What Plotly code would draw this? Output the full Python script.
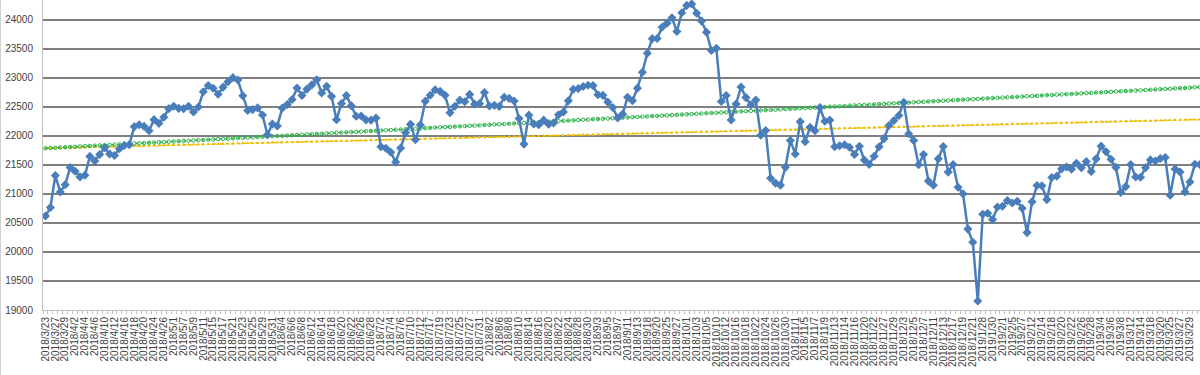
import plotly.graph_objects as go

dates = [
    "2018/3/23", "2018/3/26", "2018/3/27", "2018/3/28", "2018/3/29", "2018/3/30",
    "2018/4/2", "2018/4/3", "2018/4/4", "2018/4/5", "2018/4/6", "2018/4/9", "2018/4/10", "2018/4/11", "2018/4/12", "2018/4/13",
    "2018/4/16", "2018/4/17", "2018/4/18", "2018/4/19", "2018/4/20", "2018/4/23", "2018/4/24", "2018/4/25", "2018/4/26", "2018/4/27",
    "2018/5/1", "2018/5/2", "2018/5/7", "2018/5/8", "2018/5/9", "2018/5/10", "2018/5/11", "2018/5/14", "2018/5/15", "2018/5/16",
    "2018/5/17", "2018/5/18", "2018/5/21", "2018/5/22", "2018/5/23", "2018/5/24", "2018/5/25", "2018/5/28", "2018/5/29", "2018/5/30", "2018/5/31",
    "2018/6/1", "2018/6/4", "2018/6/5", "2018/6/6", "2018/6/7", "2018/6/8", "2018/6/11", "2018/6/12", "2018/6/13", "2018/6/14",
    "2018/6/15", "2018/6/18", "2018/6/19", "2018/6/20", "2018/6/21", "2018/6/22", "2018/6/25", "2018/6/26", "2018/6/27", "2018/6/28", "2018/6/29",
    "2018/7/2", "2018/7/3", "2018/7/4", "2018/7/5", "2018/7/6", "2018/7/9", "2018/7/10", "2018/7/11", "2018/7/12", "2018/7/13",
    "2018/7/17", "2018/7/18", "2018/7/19", "2018/7/20", "2018/7/23", "2018/7/24", "2018/7/25", "2018/7/26", "2018/7/27", "2018/7/30", "2018/7/31",
    "2018/8/1", "2018/8/2", "2018/8/3", "2018/8/6", "2018/8/7", "2018/8/8", "2018/8/9", "2018/8/10", "2018/8/13", "2018/8/14",
    "2018/8/15", "2018/8/16", "2018/8/17", "2018/8/20", "2018/8/21", "2018/8/22", "2018/8/23", "2018/8/24", "2018/8/27", "2018/8/28",
    "2018/8/29", "2018/8/30", "2018/8/31",
    "2018/9/3", "2018/9/4", "2018/9/5", "2018/9/6", "2018/9/7", "2018/9/10", "2018/9/11", "2018/9/12", "2018/9/13", "2018/9/14",
    "2018/9/18", "2018/9/19", "2018/9/20", "2018/9/21", "2018/9/25", "2018/9/26", "2018/9/27", "2018/9/28",
    "2018/10/1", "2018/10/2", "2018/10/3", "2018/10/4", "2018/10/5", "2018/10/9", "2018/10/10", "2018/10/11", "2018/10/12", "2018/10/15",
    "2018/10/16", "2018/10/17", "2018/10/18", "2018/10/19", "2018/10/22", "2018/10/23", "2018/10/24", "2018/10/25", "2018/10/26", "2018/10/29",
    "2018/10/30", "2018/10/31",
    "2018/11/1", "2018/11/2", "2018/11/5", "2018/11/6", "2018/11/7", "2018/11/8", "2018/11/9", "2018/11/12", "2018/11/13", "2018/11/13",
    "2018/11/14", "2018/11/15", "2018/11/16", "2018/11/19", "2018/11/20", "2018/11/21", "2018/11/22", "2018/11/26", "2018/11/27", "2018/11/28",
    "2018/11/29", "2018/11/30",
    "2018/12/3", "2018/12/4", "2018/12/5", "2018/12/6", "2018/12/7", "2018/12/10", "2018/12/11", "2018/12/12", "2018/12/13", "2018/12/14",
    "2018/12/17", "2018/12/18", "2018/12/19", "2018/12/20", "2018/12/21", "2018/12/25",
    "2019/1/28", "2019/1/29", "2019/1/30", "2019/1/31",
    "2019/2/1", "2019/2/4", "2019/2/5", "2019/2/6", "2019/2/7", "2019/2/8", "2019/2/12", "2019/2/13", "2019/2/14", "2019/2/15",
    "2019/2/18", "2019/2/19", "2019/2/20", "2019/2/21", "2019/2/22", "2019/2/25", "2019/2/26", "2019/2/27", "2019/2/28",
    "2019/3/1", "2019/3/4", "2019/3/5", "2019/3/6", "2019/3/7", "2019/3/8", "2019/3/11", "2019/3/12", "2019/3/13", "2019/3/14",
    "2019/3/15", "2019/3/18", "2019/3/19", "2019/3/20", "2019/3/22", "2019/3/25", "2019/3/26", "2019/3/27", "2019/3/28", "2019/3/29",
    "2019/4/1", "2019/4/2",
]

close = [
    20618, 20766, 21317, 21031, 21159, 21454,
    21389, 21292, 21320, 21645, 21568, 21678, 21794, 21687, 21660, 21779,
    21836, 21848, 22158, 22191, 22162, 22088, 22278, 22215, 22320, 22468,
    22508, 22473, 22467, 22509, 22409, 22497, 22758, 22866, 22818, 22717,
    22838, 22930, 23002, 22960, 22690, 22437, 22451, 22481, 22358, 22019, 22202,
    22171, 22476, 22540, 22626, 22823, 22695, 22804, 22878, 22966, 22739,
    22852, 22680, 22278, 22555, 22693, 22517, 22338, 22342, 22272, 22270, 22305,
    21812, 21786, 21717, 21547, 21788, 22052, 22197, 21932, 22188, 22597,
    22698, 22794, 22765, 22697, 22397, 22510, 22614, 22587, 22713, 22545, 22554,
    22747, 22513, 22525, 22507, 22663, 22644, 22598, 22298, 21857, 22356,
    22204, 22192, 22270, 22199, 22220, 22363, 22411, 22602, 22800, 22813,
    22848, 22870, 22865,
    22707, 22697, 22581, 22488, 22307, 22373, 22665, 22605, 22821, 23095,
    23421, 23673, 23675, 23870, 23940, 24034, 23797, 24120,
    24246, 24271, 24111, 23976, 23784, 23469, 23506, 22591, 22695, 22271,
    22549, 22841, 22658, 22532, 22615, 22011, 22091, 21269, 21185, 21150,
    21457, 21920,
    21688, 22244, 21899, 22148, 22086, 22487, 22250, 22270, 21811, 21830,
    21846, 21804, 21680, 21821, 21583, 21508, 21647, 21812, 21952, 22177,
    22263, 22351,
    22575, 22036, 21919, 21502, 21679, 21220, 21148, 21603, 21816, 21375,
    21507, 21115, 21000, 20393, 20166, 19156,
    20649, 20665, 20557, 20773,
    20788, 20884, 20844, 20874, 20751, 20333, 20864, 21144, 21140, 20901,
    21282, 21303, 21431, 21464, 21425, 21528, 21449, 21557, 21385,
    21603, 21822, 21726, 21597, 21456, 21026, 21125, 21504, 21290, 21287,
    21451, 21585, 21567, 21609, 21627, 20977, 21428, 21378, 21034, 21206,
    21509, 21505,
]

trend_green = [
    21785, 21790, 21794, 21799, 21803, 21808, 21812, 21817, 21821, 21826, 21830, 21835, 21839, 21844, 21848, 21853,
    21857, 21862, 21866, 21871, 21875, 21880, 21884, 21889, 21893, 21898, 21902, 21907, 21911, 21916, 21920, 21925,
    21929, 21934, 21938, 21943, 21947, 21952, 21956, 21961, 21965, 21970, 21974, 21979, 21983, 21988, 21992, 21997,
    22001, 22006, 22010, 22015, 22019, 22024, 22028, 22033, 22037, 22042, 22046, 22051, 22055, 22060, 22064, 22069,
    22073, 22078, 22082, 22087, 22091, 22096, 22100, 22105, 22109, 22114, 22118, 22123, 22127, 22132, 22136, 22141,
    22145, 22150, 22154, 22159, 22163, 22168, 22172, 22177, 22181, 22186, 22190, 22195, 22199, 22204, 22208, 22213,
    22217, 22222, 22226, 22231, 22235, 22240, 22244, 22249, 22253, 22258, 22262, 22267, 22271, 22276, 22280, 22285,
    22289, 22294, 22298, 22303, 22307, 22312, 22316, 22321, 22325, 22330, 22334, 22339, 22343, 22348, 22352, 22357,
    22361, 22366, 22370, 22375, 22379, 22384, 22388, 22393, 22397, 22402, 22406, 22411, 22415, 22420, 22424, 22429,
    22433, 22438, 22442, 22447, 22451, 22456, 22460, 22465, 22469, 22474, 22478, 22483, 22487, 22492, 22496, 22501,
    22505, 22510, 22514, 22519, 22523, 22528, 22532, 22537, 22541, 22546, 22550, 22555, 22559, 22564, 22568, 22573,
    22577, 22582, 22586, 22591, 22595, 22600, 22604, 22609, 22613, 22618, 22622, 22627, 22631, 22636, 22640, 22645,
    22649, 22654, 22658, 22663, 22667, 22672, 22676, 22681, 22685, 22690, 22694, 22699, 22703, 22708, 22712, 22717,
    22721, 22726, 22730, 22735, 22739, 22744, 22748, 22753, 22757, 22762, 22766, 22771, 22775, 22780, 22784, 22789,
    22793, 22798, 22802, 22807, 22811, 22816, 22820, 22825, 22829, 22834, 22838,
]

trend_yellow = [
    21785, 21787, 21789, 21791, 21794, 21796, 21798, 21800, 21802, 21804, 21806, 21808, 21811, 21813, 21815, 21817,
    21819, 21821, 21823, 21825, 21828, 21830, 21832, 21834, 21836, 21838, 21840, 21842, 21845, 21847, 21849, 21851,
    21853, 21855, 21857, 21859, 21862, 21864, 21866, 21868, 21870, 21872, 21874, 21876, 21879, 21881, 21883, 21885,
    21887, 21889, 21891, 21893, 21896, 21898, 21900, 21902, 21904, 21906, 21908, 21910, 21913, 21915, 21917, 21919,
    21921, 21923, 21925, 21927, 21930, 21932, 21934, 21936, 21938, 21940, 21942, 21944, 21947, 21949, 21951, 21953,
    21955, 21957, 21959, 21961, 21964, 21966, 21968, 21970, 21972, 21974, 21976, 21978, 21981, 21983, 21985, 21987,
    21989, 21991, 21993, 21995, 21998, 22000, 22002, 22004, 22006, 22008, 22010, 22012, 22015, 22017, 22019, 22021,
    22023, 22025, 22027, 22029, 22032, 22034, 22036, 22038, 22040, 22042, 22044, 22046, 22049, 22051, 22053, 22055,
    22057, 22059, 22061, 22063, 22066, 22068, 22070, 22072, 22074, 22076, 22078, 22080, 22083, 22085, 22087, 22089,
    22091, 22093, 22095, 22097, 22100, 22102, 22104, 22106, 22108, 22110, 22112, 22114, 22117, 22119, 22121, 22123,
    22125, 22127, 22129, 22131, 22134, 22136, 22138, 22140, 22142, 22144, 22146, 22148, 22151, 22153, 22155, 22157,
    22159, 22161, 22163, 22165, 22168, 22170, 22172, 22174, 22176, 22178, 22180, 22182, 22185, 22187, 22189, 22191,
    22193, 22195, 22197, 22199, 22202, 22204, 22206, 22208, 22210, 22212, 22214, 22216, 22219, 22221, 22223, 22225,
    22227, 22229, 22231, 22233, 22236, 22238, 22240, 22242, 22244, 22246, 22248, 22250, 22253, 22255, 22257, 22259,
    22261, 22263, 22265, 22267, 22270, 22272, 22274, 22276, 22278, 22280, 22282,
]

y_ticks = [19000, 19500, 20000, 20500, 21000, 21500, 22000, 22500, 23000, 23500, 24000]

idx = list(range(len(dates)))
label_idx = idx[::2]
label_text = dates[::2]
boundaries = [i - 0.5 for i in range(len(dates) + 1)]

FONT = "Liberation Sans, Arial, sans-serif"
TXT = "#404040"

fig = go.Figure()
fig.add_trace(go.Scatter(
    x=idx, y=trend_yellow, mode="lines+markers",
    line=dict(color="#F2BE00", width=1.5, dash="dot"),
    marker=dict(symbol="triangle-up", size=3.5, color="#F2BE00"),
    showlegend=False, hoverinfo="skip",
))
fig.add_trace(go.Scatter(
    x=idx, y=trend_green, mode="lines+markers",
    line=dict(color="#2DB34A", width=1.5, dash="dot"),
    marker=dict(symbol="circle-open", size=3.5, color="#2DB34A", line=dict(width=1)),
    showlegend=False, hoverinfo="skip",
))
fig.add_trace(go.Scatter(
    x=idx, y=close, mode="lines+markers",
    line=dict(color="#4A7EBB", width=2.5),
    marker=dict(symbol="diamond", size=7, color="#4A7EBB"),
    showlegend=False,
))

fig.update_layout(
    width=1200, height=375,
    margin=dict(l=43, r=0, t=0, b=65, pad=0),
    paper_bgcolor="white", plot_bgcolor="white",
    font=dict(family=FONT, size=10, color=TXT),
    xaxis=dict(
        range=[-0.5, 234.05],
        tickmode="array", tickvals=label_idx, ticktext=label_text,
        tickangle=-90, ticks="", showgrid=False, zeroline=False,
        showline=True, linecolor="#BFBFBF", linewidth=1,
        tickfont=dict(family=FONT, size=10, color=TXT),
        ticklabelstandoff=2,
        minor=dict(tickmode="array", tickvals=boundaries, ticks="outside",
                   ticklen=3, tickcolor="#BFBFBF", tickwidth=1, showgrid=False),
    ),
    yaxis=dict(
        range=[19000, 24339],
        tickmode="array", tickvals=y_ticks, tickformat="d",
        showgrid=True, gridcolor="#7F7F7F", gridwidth=1.5,
        zeroline=False, showline=True, linecolor="#BFBFBF", linewidth=1,
        ticks="", ticklabelstandoff=7,
        tickfont=dict(family=FONT, size=10, color=TXT),
    ),
    shapes=[dict(type="line", xref="paper", yref="paper",
                 x0=-42.5 / 1157, x1=-42.5 / 1157, y0=-65 / 310, y1=1,
                 line=dict(color="#D0D0D0", width=1))],
)

fig.write_html(
    "out.html",
    config={"displayModeBar": False},
    post_script="document.body.style.margin='0';document.body.style.overflow='hidden';",
)
